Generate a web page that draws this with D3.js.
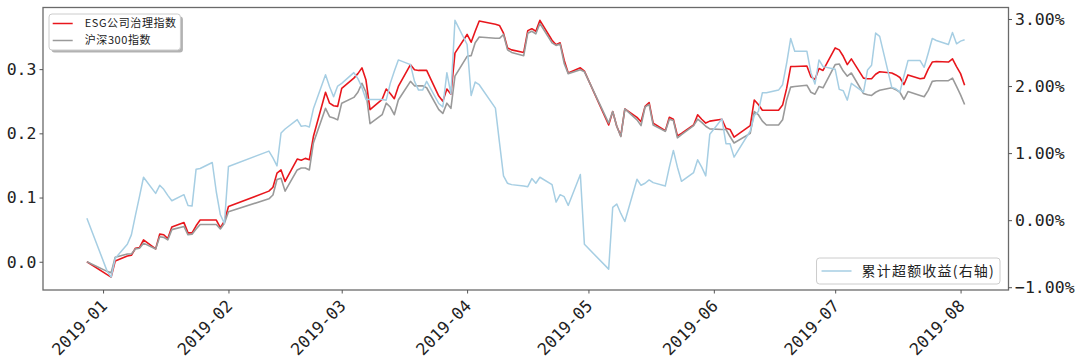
<!DOCTYPE html>
<html>
<head>
<meta charset="utf-8">
<script src="https://cdn.jsdelivr.net/npm/d3@7"></script>
<style>
  html, body { margin: 0; padding: 0; background: #fff; }
  #chart { width: 1080px; height: 360px; }
</style>
</head>
<body>
<div id="chart"></div>
<script>
// Trading days, Dec 2018 - Aug 2019
const dates = [
  '2018-12-28','2019-01-02','2019-01-03','2019-01-04','2019-01-07','2019-01-08','2019-01-09','2019-01-10','2019-01-11',
  '2019-01-14','2019-01-15','2019-01-16','2019-01-17','2019-01-18','2019-01-21','2019-01-22','2019-01-23','2019-01-24',
  '2019-01-25','2019-01-28','2019-01-29','2019-01-30','2019-01-31','2019-02-01','2019-02-11','2019-02-12','2019-02-13',
  '2019-02-14','2019-02-15','2019-02-18','2019-02-19','2019-02-20','2019-02-21','2019-02-22','2019-02-25','2019-02-26',
  '2019-02-27','2019-02-28','2019-03-01','2019-03-04','2019-03-05','2019-03-06','2019-03-07','2019-03-08','2019-03-11',
  '2019-03-12','2019-03-13','2019-03-14','2019-03-15','2019-03-18','2019-03-19','2019-03-20','2019-03-21','2019-03-22',
  '2019-03-25','2019-03-26','2019-03-27','2019-03-28','2019-03-29','2019-04-01','2019-04-02','2019-04-03','2019-04-04',
  '2019-04-08','2019-04-09','2019-04-10','2019-04-11','2019-04-12','2019-04-15','2019-04-16','2019-04-17','2019-04-18',
  '2019-04-19','2019-04-22','2019-04-23','2019-04-24','2019-04-25','2019-04-26','2019-04-29','2019-04-30','2019-05-06',
  '2019-05-07','2019-05-08','2019-05-09','2019-05-10','2019-05-13','2019-05-14','2019-05-15','2019-05-16','2019-05-17',
  '2019-05-20','2019-05-21','2019-05-22','2019-05-23','2019-05-24','2019-05-27','2019-05-28','2019-05-29','2019-05-30',
  '2019-05-31','2019-06-03','2019-06-04','2019-06-05','2019-06-06','2019-06-10','2019-06-11','2019-06-12','2019-06-13',
  '2019-06-14','2019-06-17','2019-06-18','2019-06-19','2019-06-20','2019-06-21','2019-06-24','2019-06-25','2019-06-26',
  '2019-06-27','2019-06-28','2019-07-01','2019-07-02','2019-07-03','2019-07-04','2019-07-05','2019-07-08','2019-07-09',
  '2019-07-10','2019-07-11','2019-07-12','2019-07-15','2019-07-16','2019-07-17','2019-07-18','2019-07-19','2019-07-22',
  '2019-07-23','2019-07-24','2019-07-25','2019-07-26','2019-07-29','2019-07-30','2019-07-31','2019-08-01','2019-08-02'
];

// ESG公司治理指数 cumulative return
const esg = [
  0.000,-0.020,-0.024,0.001,0.009,0.010,0.021,0.022,0.034,
  0.020,0.043,0.042,0.036,0.054,0.061,0.045,0.045,0.056,
  0.065,0.065,0.065,0.053,0.063,0.086,0.110,0.116,0.138,
  0.143,0.125,0.160,0.158,0.161,0.159,0.195,0.264,0.247,
  0.243,0.242,0.270,0.286,0.293,0.302,0.283,0.237,0.253,
  0.269,0.262,0.254,0.273,0.307,0.299,0.298,0.298,0.298,
  0.258,0.250,0.269,0.261,0.325,0.354,0.342,0.359,0.375,
  0.370,0.368,0.356,0.333,0.330,0.326,0.360,0.363,0.359,
  0.376,0.345,0.338,0.341,0.314,0.294,0.302,0.297,0.213,
  0.234,0.211,0.196,0.238,0.225,0.218,0.242,0.248,0.216,
  0.204,0.225,0.222,0.196,0.200,0.213,0.229,0.222,0.216,
  0.219,0.222,0.208,0.206,0.194,0.212,0.252,0.245,0.236,
  0.236,0.236,0.244,0.270,0.304,0.304,0.305,0.288,0.284,
  0.301,0.298,0.333,0.330,0.320,0.307,0.316,0.286,0.285,
  0.285,0.292,0.296,0.294,0.291,0.287,0.276,0.291,0.285,
  0.286,0.300,0.311,0.312,0.311,0.316,0.304,0.293,0.275
];

// 沪深300指数 cumulative return
const hs300 = [
  0.000,-0.015,-0.017,0.007,0.012,0.012,0.020,0.021,0.029,
  0.020,0.039,0.038,0.034,0.050,0.055,0.042,0.043,0.051,
  0.058,0.058,0.058,0.051,0.060,0.078,0.098,0.104,0.128,
  0.130,0.110,0.143,0.146,0.146,0.143,0.185,0.239,0.226,
  0.224,0.221,0.247,0.256,0.264,0.278,0.264,0.215,0.229,
  0.247,0.241,0.229,0.252,0.281,0.274,0.274,0.274,0.271,
  0.237,0.231,0.247,0.239,0.289,0.320,0.321,0.341,0.350,
  0.348,0.348,0.354,0.330,0.326,0.321,0.356,0.359,0.355,
  0.371,0.341,0.337,0.339,0.309,0.293,0.299,0.296,0.216,
  0.234,0.211,0.195,0.238,0.221,0.212,0.241,0.245,0.213,
  0.203,0.222,0.220,0.193,0.198,0.212,0.222,0.217,0.211,
  0.207,0.206,0.206,0.195,0.185,0.200,0.234,0.229,0.219,
  0.213,0.213,0.221,0.252,0.272,0.273,0.275,0.264,0.261,
  0.273,0.271,0.307,0.308,0.297,0.289,0.294,0.262,0.260,
  0.259,0.264,0.267,0.271,0.268,0.264,0.253,0.265,0.259,
  0.257,0.267,0.281,0.282,0.282,0.286,0.273,0.260,0.245
];

// 累计超额收益, in percent (right axis)
const excess = [
  0.03,-0.76,-0.85,-0.57,-0.36,-0.22,0.07,0.35,0.64,
  0.40,0.52,0.46,0.37,0.29,0.38,0.22,0.21,0.76,
  0.77,0.86,0.42,0.08,-0.05,0.80,1.03,0.93,0.81,
  1.30,1.36,1.50,1.40,1.41,1.39,1.66,2.17,1.99,
  1.84,2.00,2.04,2.20,2.11,1.98,1.80,1.80,1.80,
  1.79,2.04,2.22,2.39,2.32,2.07,1.94,1.94,2.07,
  1.74,1.69,2.20,1.88,2.98,2.62,1.86,2.06,2.02,
  1.67,1.16,0.66,0.55,0.53,0.51,0.50,0.62,0.55,
  0.64,0.53,0.27,0.38,0.35,0.22,0.68,-0.36,-0.73,
  0.19,0.24,0.10,-0.02,0.61,0.52,0.55,0.60,0.56,
  0.51,0.79,1.04,0.79,0.58,0.71,0.90,0.79,0.66,
  1.28,1.51,1.14,1.14,0.94,1.33,1.56,1.62,1.90,
  1.90,1.94,2.02,2.34,2.71,2.52,2.52,2.20,2.03,
  2.39,2.29,2.25,1.95,1.93,1.79,2.04,1.91,2.24,
  2.31,2.79,2.74,1.98,1.96,1.91,2.15,2.38,2.38,
  2.28,2.49,2.71,2.68,2.62,2.80,2.63,2.67,2.69
];

const seriesNames = ['ESG公司治理指数', '沪深300指数'];
const excessName  = '累计超额收益(右轴)';
const leftTicks   = [0, 0.1, 0.2, 0.3];
const rightTicks  = [-1, 0, 1, 2, 3];

// Layout
const width  = 1080;
const height = 360;
const margin = { top: 7.5, right: 71.5, bottom: 70, left: 43 };
const plotR  = width - margin.right;
const plotB  = height - margin.bottom;

const colors   = { esg: '#e8161c', hs: '#9a9a9a', ex: '#a6cee3' };
const tickFont = '"DejaVu Sans Mono", monospace';
const cjkFont  = '"Noto Sans CJK SC", "Noto Sans", sans-serif';

const svg = d3.select('#chart')
  .append('svg')
    .attr('width', width)
    .attr('height', height)
    .style('display', 'block');

const parse = d3.timeParse('%Y-%m-%d');
const time  = dates.map(parse);

// matplotlib-like 5% padding on every axis
function padded(lo, hi) {
  const p = (hi - lo) * 0.05;
  return [lo - p, hi + p];
}

const [t0, t1] = d3.extent(time);
const tp = (t1 - t0) * 0.05;
const x = d3.scaleTime()
  .domain([new Date(+t0 - tp), new Date(+t1 + tp)])
  .range([margin.left, plotR]);

const yL = d3.scaleLinear()
  .domain(padded(d3.min([...esg, ...hs300]), d3.max([...esg, ...hs300])))
  .range([plotB, margin.top]);

const yR = d3.scaleLinear()
  .domain(padded(d3.min(excess), d3.max(excess)))
  .range([plotB, margin.top]);

const lineL = d3.line().x((d, i) => x(time[i])).y(d => yL(d));
const lineR = d3.line().x((d, i) => x(time[i])).y(d => yR(d));

const plot = svg.append('g');

plot.append('path')
  .attr('d', lineL(esg))
  .attr('fill', 'none')
  .attr('stroke', colors.esg)
  .attr('stroke-width', 1.6)
  .attr('stroke-linejoin', 'round');

plot.append('path')
  .attr('d', lineL(hs300))
  .attr('fill', 'none')
  .attr('stroke', colors.hs)
  .attr('stroke-width', 1.6)
  .attr('stroke-linejoin', 'round');

plot.append('path')
  .attr('d', lineR(excess))
  .attr('fill', 'none')
  .attr('stroke', colors.ex)
  .attr('stroke-width', 1.5)
  .attr('stroke-linejoin', 'round');

// Frame
svg.append('rect')
  .attr('x', margin.left)
  .attr('y', margin.top)
  .attr('width', plotR - margin.left)
  .attr('height', plotB - margin.top)
  .attr('fill', 'none')
  .attr('stroke', '#6a6a6a')
  .attr('stroke-width', 1.3);

function styleAxis(g) {
  g.select('.domain').remove();
  g.selectAll('.tick line').attr('stroke', '#555');
  g.selectAll('.tick text')
    .attr('fill', '#222')
    .style('font-family', tickFont)
    .style('font-size', '16.5px');
}

svg.append('g')
  .attr('transform', `translate(${margin.left},0)`)
  .call(d3.axisLeft(yL).tickValues(leftTicks).tickFormat(d3.format('.1f')).tickSize(3.5).tickPadding(3))
  .call(styleAxis);

svg.append('g')
  .attr('transform', `translate(${plotR},0)`)
  .call(d3.axisRight(yR).tickValues(rightTicks).tickFormat(d => d3.format('.2f')(d) + '%').tickSize(3.5).tickPadding(3))
  .call(styleAxis);

svg.append('g')
  .attr('transform', `translate(0,${plotB})`)
  .call(d3.axisBottom(x).ticks(d3.timeMonth.every(1)).tickFormat(d3.timeFormat('%Y-%m')).tickSize(3.5))
  .call(styleAxis)
  .selectAll('.tick text')
    .attr('x', 0).attr('y', 0).attr('dy', '0.35em')
    .attr('text-anchor', 'middle')
    .attr('transform', 'translate(-24,37.5) rotate(-45)');

// Legends
function legend(items, opts) {
  const g = svg.append('g').attr('transform', `translate(${opts.x},${opts.y})`);
  const frame = g.append('rect');
  const shadow = opts.shadow ? g.insert('rect', 'rect') : null;
  let maxW = 0;
  items.forEach((it, i) => {
    const cy = opts.padY + opts.rowH * (i + 0.5);
    g.append('line')
      .attr('x1', opts.padX).attr('x2', opts.padX + opts.handle)
      .attr('y1', cy).attr('y2', cy)
      .attr('stroke', it.color).attr('stroke-width', 1.5);
    const t = g.append('text')
      .attr('x', opts.padX + opts.handle + opts.gap)
      .attr('y', cy)
      .attr('dy', '0.36em')
      .attr('fill', '#222')
      .style('font-family', cjkFont)
      .style('font-size', opts.fs + 'px')
      .style('letter-spacing', (opts.ls || 0) + 'px')
      .text(it.label);
    maxW = Math.max(maxW, t.node().getComputedTextLength());
  });
  const w = opts.padX + opts.handle + opts.gap + maxW + opts.padX;
  const h = opts.padY * 2 + opts.rowH * items.length;
  const x0 = opts.alignRight ? -w : 0;
  g.attr('transform', `translate(${opts.x + x0},${opts.y})`);
  frame.attr('width', w).attr('height', h).attr('rx', 3)
    .attr('fill', '#fff').attr('stroke', '#cccccc').attr('stroke-width', 1);
  if (shadow) {
    shadow.attr('x', 2.5).attr('y', 2.5).attr('width', w).attr('height', h).attr('rx', 3)
      .attr('fill', '#000').attr('opacity', 0.3);
  }
}

legend(
  [{ label: seriesNames[0], color: colors.esg }, { label: seriesNames[1], color: colors.hs }],
  { x: margin.left + 6, y: margin.top + 6.5, fs: 11, ls: 0.6, handle: 20, gap: 12, padX: 3.7, padY: 1, rowH: 17, shadow: true }
);

legend(
  [{ label: excessName, color: colors.ex }],
  { x: plotR - 8.5, y: plotB - 32, fs: 14, ls: 1.2, handle: 30, gap: 10, padX: 5, padY: 0.5, rowH: 25, alignRight: true }
);
</script>
</body>
</html>
